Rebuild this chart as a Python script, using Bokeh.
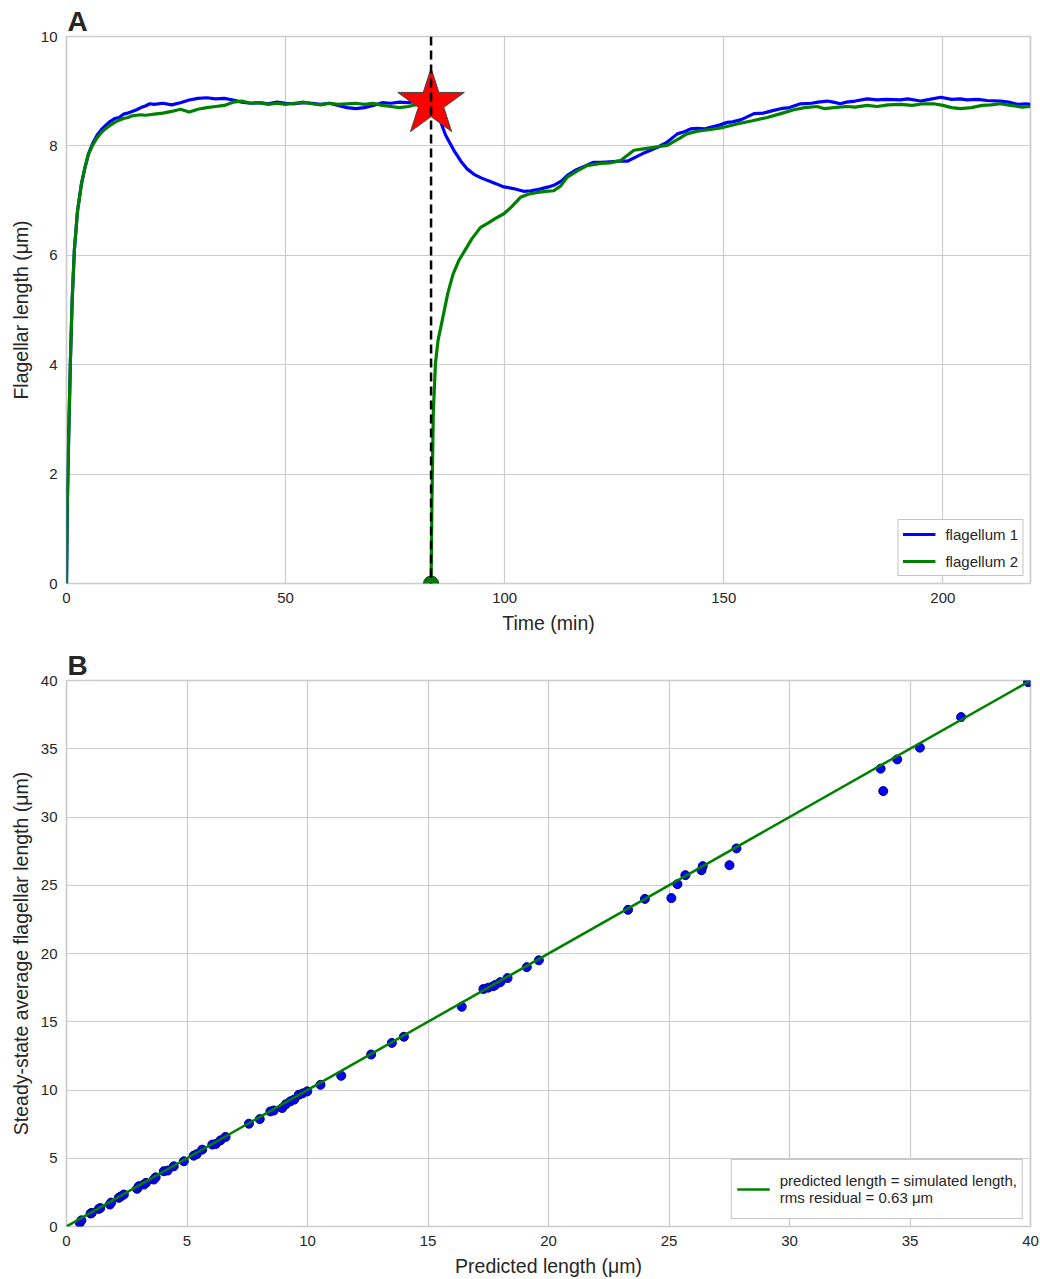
from bokeh.plotting import figure
from bokeh.layouts import column
from bokeh.models import Range1d, FixedTicker, Legend, LegendItem, Span
from bokeh.embed import file_html
from bokeh.resources import INLINE

# ---------------- Panel A data ----------------
t_flag1 = [0, 0.2, 0.45, 0.9, 1.3, 1.8, 2.5, 3.4, 4.2, 5, 6, 7, 8, 9, 10, 11, 12, 13, 14, 15, 16, 17, 18, 19,
           20, 22, 24, 26, 28, 30, 32, 34, 36, 38, 40, 42, 44, 46, 48, 50, 52, 54, 56, 58, 60, 62, 64, 66,
           68, 70, 72, 74, 76, 78, 80, 82, 83.2, 84, 85.3, 86.5, 88.4, 90, 91.4, 93, 94.5, 96, 98, 99.8,
           102, 104.3, 106, 108, 110, 111.2, 113, 114.3, 116, 118, 120.3, 122, 124, 126.4, 128, 130, 131.5,
           133.3, 135, 137.1, 139.4, 141, 142.4, 144, 145.5, 147, 149, 150.8, 152, 154, 156.9, 159, 161.4,
           163, 165, 167.5, 170, 171.5, 173.6, 175, 176.6, 178, 180, 182.7, 185, 187, 190.3, 192, 194.9,
           197, 199.5, 202, 204, 205.5, 208, 210, 213.1, 215, 217, 219, 220]
len_flag1 = [0, 1.5, 2.5, 4.1, 5.2, 6.1, 6.8, 7.3, 7.6, 7.85, 8.05, 8.2, 8.3, 8.38, 8.45, 8.5, 8.52, 8.58, 8.6,
             8.63, 8.66, 8.7, 8.73, 8.77, 8.76, 8.78, 8.75, 8.79, 8.84, 8.87, 8.88, 8.86, 8.87, 8.84, 8.80,
             8.78, 8.79, 8.77, 8.80, 8.78, 8.77, 8.79, 8.78, 8.76, 8.78, 8.74, 8.70, 8.68, 8.70, 8.74, 8.79,
             8.78, 8.80, 8.79, 8.82, 8.84, 8.82, 8.68, 8.46, 8.2, 7.92, 7.72, 7.58, 7.48, 7.42, 7.37, 7.31,
             7.25, 7.22, 7.17, 7.18, 7.21, 7.25, 7.28, 7.36, 7.46, 7.55, 7.62, 7.70, 7.70, 7.71, 7.72, 7.72,
             7.80, 7.86, 7.92, 7.98, 8.07, 8.22, 8.26, 8.31, 8.32, 8.31, 8.34, 8.38, 8.43, 8.44, 8.48, 8.59,
             8.60, 8.65, 8.68, 8.70, 8.77, 8.78, 8.80, 8.82, 8.80, 8.77, 8.80, 8.82, 8.86, 8.84, 8.85, 8.84,
             8.86, 8.82, 8.85, 8.89, 8.85, 8.86, 8.84, 8.85, 8.83, 8.82, 8.80, 8.76, 8.77, 8.76]

t_flag2_before = [0, 0.2, 0.45, 0.9, 1.3, 1.8, 2.5, 3.4, 4.2, 5, 6, 7, 8, 9, 10, 11, 12, 13, 14, 15, 16, 17,
                  18, 19, 20, 22, 24, 26, 28, 30, 32, 34, 36, 38, 40, 42, 44, 46, 48, 50, 52, 54, 56, 58, 60,
                  62, 64, 66, 68, 70, 72, 74, 76, 78, 80, 82, 83.2]
len_flag2_before = [0, 1.5, 2.5, 4.1, 5.2, 6.1, 6.8, 7.3, 7.6, 7.85, 8.02, 8.15, 8.25, 8.32, 8.38, 8.43, 8.47,
                    8.50, 8.52, 8.55, 8.56, 8.57, 8.56, 8.57, 8.58, 8.60, 8.63, 8.67, 8.62, 8.67, 8.70, 8.72,
                    8.74, 8.80, 8.82, 8.78, 8.79, 8.76, 8.78, 8.76, 8.78, 8.80, 8.77, 8.75, 8.78, 8.76, 8.77,
                    8.78, 8.76, 8.78, 8.74, 8.72, 8.70, 8.72, 8.76, 8.80, 8.78]

t_flag2_after = [83.2, 83.4, 83.7, 84.2, 84.8, 85.6, 87.0, 88.2, 89.5, 91, 92.5, 94.5, 96, 98, 99.8, 101.5,
                 103.6, 105.5, 107.5, 109.5, 111.2, 112.8, 114.3, 116.5, 118.8, 121.9, 124, 126.4, 129.5,
                 132, 134.5, 137.1, 139.5, 141.6, 144, 147, 150, 153, 156.5, 159.9, 163, 166, 168.5, 171.3,
                 173, 175.1, 178, 180, 182.7, 185, 187.5, 190.3, 193, 195.5, 197.9, 200, 202, 204, 206.5,
                 209, 211, 213.1, 215.5, 218, 220]
len_flag2_after = [0, 1.5, 3.1, 4.02, 4.45, 4.75, 5.30, 5.65, 5.90, 6.10, 6.30, 6.51, 6.58, 6.68, 6.76, 6.88,
                   7.06, 7.12, 7.15, 7.17, 7.18, 7.27, 7.43, 7.54, 7.64, 7.68, 7.69, 7.73, 7.92, 7.95, 7.98,
                   8.01, 8.12, 8.22, 8.27, 8.30, 8.34, 8.40, 8.46, 8.52, 8.59, 8.66, 8.70, 8.72, 8.68, 8.70,
                   8.72, 8.71, 8.74, 8.72, 8.75, 8.76, 8.74, 8.77, 8.77, 8.74, 8.70, 8.68, 8.70, 8.74, 8.75,
                   8.77, 8.74, 8.71, 8.72]

event_time = [83.2]
event_len_intact = [8.78]
event_len_severed = [0.0]

a_xticks = [0, 50, 100, 150, 200]
a_yticks = [0, 2, 4, 6, 8, 10]

# ---------------- Panel B data ----------------
predicted = [0.55, 0.62, 1.0, 1.05, 1.34, 1.4, 1.80, 1.85, 2.17, 2.25, 2.38, 2.93, 3.0, 3.21, 3.3, 3.62, 3.7,
             4.04, 4.2, 4.45, 4.87, 5.28, 5.4, 5.63, 6.05, 6.2, 6.39, 6.6, 7.57, 8.02, 8.46, 8.6, 8.95, 9.1,
             9.29, 9.45, 9.64, 9.8, 9.99, 10.54, 11.4, 12.64, 13.5, 14.0, 16.4, 17.3, 17.5, 17.7, 17.8, 18.0,
             18.3, 19.1, 19.6, 23.3, 24.0, 25.1, 25.35, 25.68, 26.35, 26.4, 27.51, 27.8, 33.78, 33.89, 34.47,
             35.41, 37.12, 39.9]
simulated = [0.27, 0.45, 0.95, 1.0, 1.29, 1.35, 1.61, 1.75, 2.1, 2.2, 2.34, 2.76, 2.95, 3.07, 3.2, 3.44, 3.6,
             4.05, 4.1, 4.41, 4.78, 5.19, 5.3, 5.63, 6.0, 6.05, 6.31, 6.56, 7.53, 7.87, 8.43, 8.5, 8.68, 8.95,
             9.17, 9.3, 9.65, 9.75, 9.9, 10.38, 11.04, 12.6, 13.45, 13.9, 16.1, 17.4, 17.5, 17.6, 17.7, 17.9,
             18.2, 19.0, 19.5, 23.2, 24.0, 24.06, 25.08, 25.74, 26.1, 26.4, 26.47, 27.7, 33.54, 31.9, 34.22,
             35.08, 37.32, 39.88]
identity_line = [0, 40]

b_xticks = [0, 5, 10, 15, 20, 25, 30, 35, 40]
b_yticks = [0, 5, 10, 15, 20, 25, 30, 35, 40]

FONT = "Liberation Sans"
TXT = "#262626"
GRID = "#cccccc"
BLUE = "#0000ff"
GREEN = "#008000"


def make_fig(height, top, bottom, letter, xr, yr, xt, yt, xl, yl):
    p = figure(width=1040, height=height, output_backend="svg", toolbar_location=None,
               x_range=Range1d(*xr), y_range=Range1d(*yr), title=letter,
               min_border_left=66, min_border_right=10, min_border_top=top, min_border_bottom=bottom)
    p.title.text_font = FONT
    p.title.text_font_size = "28px"
    p.title.text_font_style = "bold"
    p.title.text_color = TXT
    p.title.standoff = 0
    p.title.offset = 1
    p.title.align = "left"
    p.outline_line_color = GRID
    p.outline_line_width = 1.7
    p.background_fill_color = "white"
    p.border_fill_color = "white"
    for ax, ticks, lab in ((p.xaxis[0], xt, xl), (p.yaxis[0], yt, yl)):
        ax.ticker = FixedTicker(ticks=ticks)
        ax.axis_line_color = None
        ax.major_tick_line_color = None
        ax.minor_tick_line_color = None
        ax.major_tick_out = 0
        ax.major_tick_in = 0
        ax.minor_tick_out = 0
        ax.minor_tick_in = 0
        ax.major_label_text_font = FONT
        ax.major_label_text_font_size = "15px"
        ax.major_label_text_color = TXT
        ax.major_label_standoff = 9
        ax.axis_label = lab
        ax.axis_label_text_font = FONT
        ax.axis_label_text_font_size = "19.5px"
        ax.axis_label_text_font_style = "normal"
        ax.axis_label_text_color = TXT
        ax.axis_label_standoff = 6
    p.grid.grid_line_color = GRID
    p.grid.grid_line_width = 1.2
    return p


def style_legend(leg, padding, spacing, label_height):
    leg.location = "bottom_right"
    leg.margin = 7
    leg.padding = padding
    leg.spacing = spacing
    leg.glyph_width = 33
    leg.glyph_height = 20
    leg.label_height = label_height
    leg.label_standoff = 10
    leg.label_text_font = FONT
    leg.label_text_font_size = "15px"
    leg.label_text_color = TXT
    leg.border_line_color = "#8c8c8c"
    leg.border_line_width = 1
    leg.background_fill_color = "white"
    leg.background_fill_alpha = 1.0


# ---------------- Panel A ----------------
pa = make_fig(640, 36, 57, "A", (0, 220), (0, 10), a_xticks, a_yticks,
              "Time (min)", "Flagellar length (μm)")
r1 = pa.line(t_flag1, len_flag1, line_color=BLUE, line_width=3.2)
r2 = pa.line(t_flag2_before, len_flag2_before, line_color=GREEN, line_width=3.2)
pa.line(t_flag2_after, len_flag2_after, line_color=GREEN, line_width=3.2)
pa.scatter(event_time, event_len_intact, marker="star", size=70, fill_color="red",
           line_color="#444444", line_width=1)
pa.scatter(event_time, event_len_severed, marker="circle", size=15, fill_color=GREEN,
           line_color="#1a3a1a", line_width=1)
pa.add_layout(Span(location=event_time[0], dimension="height", line_color="black",
                   line_width=2.5, line_dash="9 5"))
leg_a = Legend(items=[LegendItem(label="flagellum 1", renderers=[r1]),
                      LegendItem(label="flagellum 2", renderers=[r2])])
style_legend(leg_a, 4, 7, 20)
pa.add_layout(leg_a)

# ---------------- Panel B ----------------
pb = make_fig(639, 40, 52, "B", (0, 40), (0, 40), b_xticks, b_yticks,
              "Predicted length (μm)", "Steady-state average flagellar length (μm)")
pb.scatter(predicted, simulated, marker="circle", size=9, fill_color=BLUE,
           line_color="#00007a", line_width=1)
rl = pb.line(identity_line, identity_line, line_color=GREEN, line_width=2.5)
leg_b = Legend(items=[LegendItem(label="predicted length = simulated length,\nrms residual = 0.63 μm",
                                 renderers=[rl])])
style_legend(leg_b, 5, 0, 48)
pb.add_layout(leg_b)

layout = column(pa, pb, spacing=0)
open("out.html", "w").write(file_html(layout, INLINE))
